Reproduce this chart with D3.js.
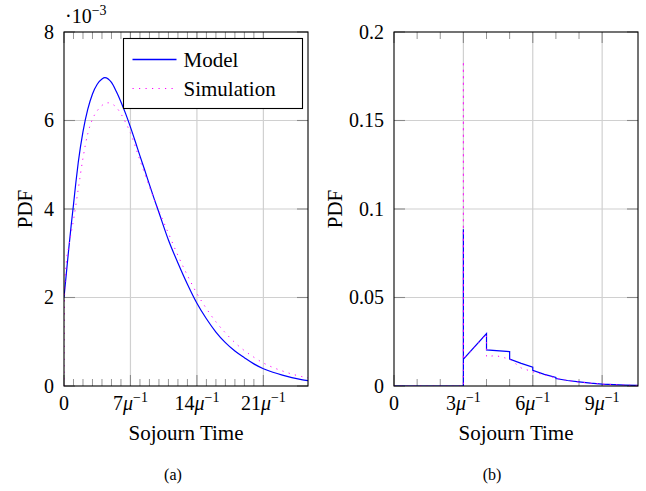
<!DOCTYPE html>
<html>
<head>
<meta charset="utf-8">
<script src="https://cdnjs.cloudflare.com/ajax/libs/d3/7.8.5/d3.min.js"></script>
<style>
  body { margin: 0; background: #fff; }
</style>
</head>
<body>
<div id="chart"></div>
<script>
// 1. SETUP
const width = 646;
const height = 491;
const serif = "'Liberation Serif', 'DejaVu Serif', serif";

// --- DATA: panel (a), PDF values in units of 1e-3 ---
const modelA_x = [0, 0.25, 0.5, 0.75, 1, 1.25, 1.5, 2, 2.5, 3, 3.5, 4, 4.3, 5, 5.5, 6, 6.5, 7, 7.5, 8, 8.5, 9, 9.5, 10, 11, 12, 13, 14, 15, 16, 17, 18, 19, 20, 21, 22, 23, 24, 25, 25.7];
const modelA_y = [2.0, 2.55, 3.1, 3.62, 4.1, 4.6, 5.05, 5.75, 6.25, 6.6, 6.82, 6.94, 6.97, 6.86, 6.66, 6.42, 6.15, 5.85, 5.53, 5.2, 4.88, 4.55, 4.23, 3.92, 3.3, 2.78, 2.3, 1.87, 1.52, 1.22, 0.98, 0.79, 0.64, 0.5, 0.39, 0.31, 0.245, 0.19, 0.145, 0.12];
const simA_x = [0, 0.05, 0.1, 0.25, 0.5, 0.75, 1, 1.5, 2, 2.5, 3, 3.5, 4, 4.67, 5, 5.5, 6, 6.5, 7, 7.5, 8, 8.5, 9, 9.5, 10, 11, 12, 13, 14, 15, 16, 17, 18, 19, 20, 21, 22, 23, 24, 25, 25.7];
const simA_y = [0, 1.9, 2.3, 2.8, 3.15, 3.45, 3.75, 4.45, 5.15, 5.7, 6.03, 6.22, 6.34, 6.40, 6.38, 6.3, 6.15, 5.95, 5.72, 5.42, 5.1, 4.8, 4.5, 4.22, 3.96, 3.45, 2.95, 2.5, 2.09, 1.75, 1.45, 1.2, 0.98, 0.8, 0.65, 0.52, 0.42, 0.34, 0.27, 0.215, 0.185];

// --- DATA: panel (b) ---
const modelB_x = [0, 3, 3, 3, 4, 4, 5, 5, 5.5, 6, 6, 6.5, 7, 7, 7.5, 8, 8.5, 9, 9.5, 10, 10.55];
const modelB_y = [0, 0, 0.0885, 0.0151, 0.0296, 0.0204, 0.0194, 0.0152, 0.0128, 0.0106, 0.0088, 0.0066, 0.0048, 0.0042, 0.0031, 0.0023, 0.0016, 0.0011, 0.0008, 0.0005, 0.0003];
const simB_x = [0, 3, 3, 3, 4, 4, 4.4, 5, 5.5, 6, 6.5, 7, 7.5, 8, 9, 10, 10.55];
const simB_y = [0, 0, 0.1836, 0.0151, 0.0292, 0.0166, 0.0172, 0.0152, 0.0102, 0.0080, 0.0063, 0.0045, 0.0031, 0.0022, 0.0011, 0.0005, 0.0003];

// --- TICKS ---
const xTicksA = [0, 7, 14, 21];
const yTicksA = [0, 2, 4, 6, 8];
const yLabelsA = ["0", "2", "4", "6", "8"];
const xTicksB = [0, 3, 6, 9];
const yTicksB = [0, 0.05, 0.1, 0.15, 0.2];
const yLabelsB = ["0", "0.05", "0.1", "0.15", "0.2"];

const seriesNames = ["Model", "Simulation"];

const svg = d3.select("#chart")
    .append("svg")
    .attr("width", width)
    .attr("height", height)
    .attr("viewBox", [0, 0, width, height])
    .attr("font-family", serif)
    .style("font-family", serif);

const gridColor = "#d0d0d0";
const tickColor = "#8a8a8a";
const blue = "#0000ff";
const magenta = "#ff00ff";

function drawPanel(p) {
    const x = d3.scaleLinear().domain([0, p.xmax]).range([p.left, p.right]);
    const y = d3.scaleLinear().domain([0, p.ymax]).range([386, 32]);
    const g = svg.append("g");

    // grid lines
    g.append("g").selectAll("line")
        .data(p.xTicks.filter(d => d > 0))
        .join("line")
        .attr("x1", d => x(d)).attr("x2", d => x(d))
        .attr("y1", y(0)).attr("y2", y(p.ymax))
        .attr("stroke", gridColor).attr("stroke-width", 1.2);
    g.append("g").selectAll("line")
        .data(p.yTicks.filter(d => d > 0 && d < p.ymax))
        .join("line")
        .attr("x1", p.left).attr("x2", p.right)
        .attr("y1", d => y(d)).attr("y2", d => y(d))
        .attr("stroke", gridColor).attr("stroke-width", 1.2);

    // minor x ticks (between majors only)
    const lastMajor = p.xTicks[p.xTicks.length - 1];
    const minor = d3.range(1, lastMajor).filter(d => !p.xTicks.includes(d));
    [[y(0), -7], [y(p.ymax), 7]].forEach(([yy, len]) => {
        g.append("g").selectAll("line")
            .data(minor)
            .join("line")
            .attr("x1", d => x(d)).attr("x2", d => x(d))
            .attr("y1", yy).attr("y2", yy + len)
            .attr("stroke", tickColor).attr("stroke-width", 0.9);
        g.append("g").selectAll("line")
            .data(p.xTicks)
            .join("line")
            .attr("x1", d => x(d)).attr("x2", d => x(d))
            .attr("y1", yy).attr("y2", yy + (len > 0 ? 11 : -11))
            .attr("stroke", tickColor).attr("stroke-width", 1.1);
    });
    // major y ticks on both sides
    [[p.left, 11], [p.right, -11]].forEach(([xx, len]) => {
        g.append("g").selectAll("line")
            .data(p.yTicks)
            .join("line")
            .attr("x1", xx).attr("x2", xx + len)
            .attr("y1", d => y(d)).attr("y2", d => y(d))
            .attr("stroke", tickColor).attr("stroke-width", 1.1);
    });

    // clip
    const clipId = "clip-" + p.id;
    svg.append("clipPath").attr("id", clipId)
        .append("rect")
        .attr("x", p.left).attr("y", 32)
        .attr("width", p.right - p.left).attr("height", 386 - 32);

    const line = d3.line().x(d => x(d[0])).y(d => y(d[1]));
    if (p.smooth) line.curve(d3.curveMonotoneX);
    const plot = g.append("g").attr("clip-path", `url(#${clipId})`);

    plot.append("path")
        .datum(p.modelX.map((d, i) => [d, p.modelY[i]]))
        .attr("d", line)
        .attr("fill", "none")
        .attr("stroke", blue)
        .attr("stroke-width", 1.2);

    plot.append("path")
        .datum(p.simX.map((d, i) => [d, p.simY[i]]))
        .attr("d", line)
        .attr("fill", "none")
        .attr("stroke", magenta)
        .attr("stroke-width", 1)
        .attr("stroke-dasharray", "1.2,5.3");

    // frame
    g.append("rect")
        .attr("x", p.left).attr("y", 32)
        .attr("width", p.right - p.left).attr("height", 386 - 32)
        .attr("fill", "none").attr("stroke", "#000").attr("stroke-width", 1.1);

    // y tick labels
    g.append("g").selectAll("text")
        .data(p.yTicks)
        .join("text")
        .attr("x", p.left - 10)
        .attr("y", d => y(d))
        .attr("dy", "0.34em")
        .attr("text-anchor", "end")
        .attr("font-size", "20px")
        .text((d, i) => p.yLabels[i]);

    // x tick labels
    const xl = g.append("g").selectAll("text")
        .data(p.xTicks)
        .join("text")
        .attr("x", d => x(d))
        .attr("y", 410)
        .attr("text-anchor", "middle")
        .attr("font-size", "20px");
    xl.each(function(d) {
        const t = d3.select(this);
        if (d === 0) { t.text("0"); return; }
        t.append("tspan").text(d);
        t.append("tspan").text("μ").attr("font-style", "italic");
        t.append("tspan").text("−1").attr("font-size", "14px").attr("dy", -8);
    });

    // axis labels
    g.append("text")
        .attr("x", (p.left + p.right) / 2)
        .attr("y", 440)
        .attr("text-anchor", "middle")
        .attr("font-size", "21px")
        .text("Sojourn Time");
    g.append("text")
        .attr("transform", `translate(${p.ylabelX}, 209) rotate(-90)`)
        .attr("text-anchor", "middle")
        .attr("font-size", "21px")
        .text("PDF");

    // caption
    g.append("text")
        .attr("x", p.captionX)
        .attr("y", 480)
        .attr("text-anchor", "middle")
        .attr("font-size", "16px")
        .text(p.caption);

    return { x, y, g };
}

drawPanel({
    id: "a", left: 64, right: 308, xmax: 25.7, ymax: 8, smooth: true,
    xTicks: xTicksA, yTicks: yTicksA, yLabels: yLabelsA,
    modelX: modelA_x, modelY: modelA_y, simX: simA_x, simY: simA_y,
    ylabelX: 32, captionX: 173, caption: "(a)"
});

drawPanel({
    id: "b", left: 394, right: 638, xmax: 10.55, ymax: 0.2, smooth: false,
    xTicks: xTicksB, yTicks: yTicksB, yLabels: yLabelsB,
    modelX: modelB_x, modelY: modelB_y, simX: simB_x, simY: simB_y,
    ylabelX: 342, captionX: 492, caption: "(b)"
});

// scale factor label for panel (a)
const sci = svg.append("text")
    .attr("x", 65)
    .attr("y", 23)
    .attr("font-size", "20px");
sci.append("tspan").text("·10");
sci.append("tspan").text("−3").attr("font-size", "14px").attr("dy", -8);

// --- LEGEND ---
const legend = svg.append("g").attr("transform", "translate(123.5, 38.5)");
legend.append("rect")
    .attr("width", 179).attr("height", 70)
    .attr("fill", "#fff").attr("stroke", "#000").attr("stroke-width", 1.1);
seriesNames.forEach((name, i) => {
    const row = legend.append("g").attr("transform", `translate(0, ${21 + i * 29})`);
    row.append("line")
        .attr("x1", 9).attr("x2", 53)
        .attr("y1", 0).attr("y2", 0)
        .attr("stroke", i === 0 ? blue : magenta)
        .attr("stroke-width", i === 0 ? 1.4 : 1)
        .attr("stroke-dasharray", i === 0 ? null : "1.2,5.3");
    row.append("text")
        .attr("x", 60)
        .attr("y", 0)
        .attr("dy", "0.34em")
        .attr("font-size", "21px")
        .text(name);
});
</script>
</body>
</html>
